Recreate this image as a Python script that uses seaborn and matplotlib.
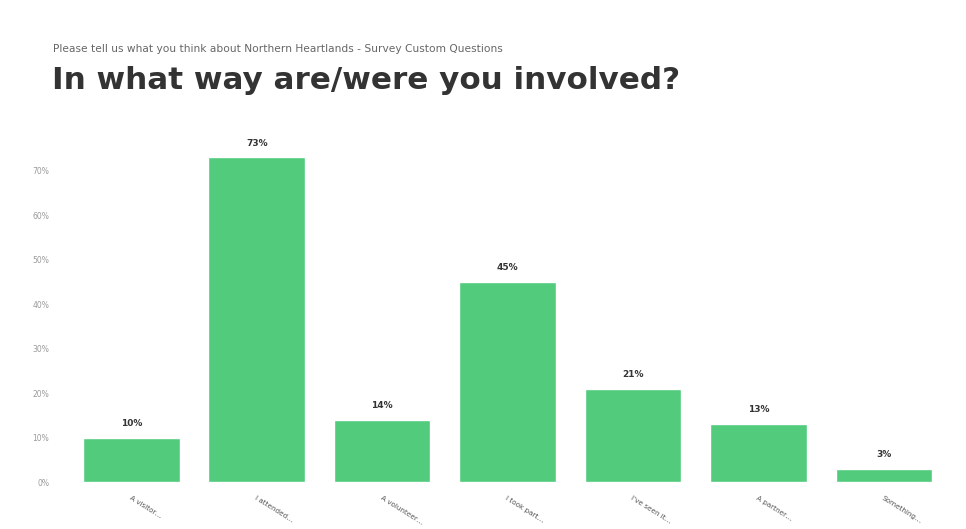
import matplotlib
matplotlib.use("Agg")
import matplotlib.pyplot as plt
import seaborn as sns
import pandas as pd

# Survey responses: share of respondents choosing each type of involvement
categories = [
    "As a visitor / audience member",
    "I've attended an event or activity",
    "As a volunteer or helper",
    "I've taken part in a project",
    "I've seen the artwork in my area",
    "As a partner organisation",
    "Something else",
]
short_labels = [
    "A visitor…",
    "I attended…",
    "A volunteer…",
    "I took part…",
    "I've seen it…",
    "A partner…",
    "Something…",
]
percent = [10, 73, 14, 45, 21, 13, 3]
y_ticks = [0, 10, 20, 30, 40, 50, 60, 70]

subtitle = "Please tell us what you think about Northern Heartlands - Survey Custom Questions"
title = "In what way are/were you involved?"

bar_color = "#52cc7c"

df = pd.DataFrame({"category": categories, "percent": percent})

sns.set_theme(style="white")
plt.rcParams["font.family"] = ["DejaVu Sans"]

fig = plt.figure(figsize=(9.66, 5.29), dpi=100)
ax = fig.add_axes([0.071, 0.0888, 0.909, 0.656])

sns.barplot(data=df, x="category", y="percent", color=bar_color,
            saturation=1, width=0.77, ax=ax)

ax.set_xlim(-0.5, len(categories) - 0.5)
ax.set_ylim(0, 78)
ax.set_yticks(y_ticks)
ax.set_yticklabels([f"{t}%" for t in y_ticks], fontsize=5.5, color="#9a9a9a")
ax.tick_params(axis="y", length=0, pad=14)

ax.set_xticks(range(len(categories)))
ax.set_xticklabels(short_labels, rotation=-32, ha="left", rotation_mode="anchor",
                   fontsize=5.2, color="#555555")
ax.tick_params(axis="x", length=0, pad=9)

ax.set_xlabel("")
ax.set_ylabel("")
for side in ax.spines.values():
    side.set_visible(False)
ax.grid(False)

for container in ax.containers:
    ax.bar_label(container, labels=[f"{v}%" for v in percent], padding=7,
                 fontsize=6.5, fontweight="bold", color="#333333")

fig.text(0.055, 0.907, subtitle, fontsize=7.7, color="#666666", va="center")
fig.text(0.054, 0.848, title, fontsize=22.3, fontweight="bold", color="#333333",
         va="center")

fig.savefig("out.png", dpi=100, facecolor="white")
